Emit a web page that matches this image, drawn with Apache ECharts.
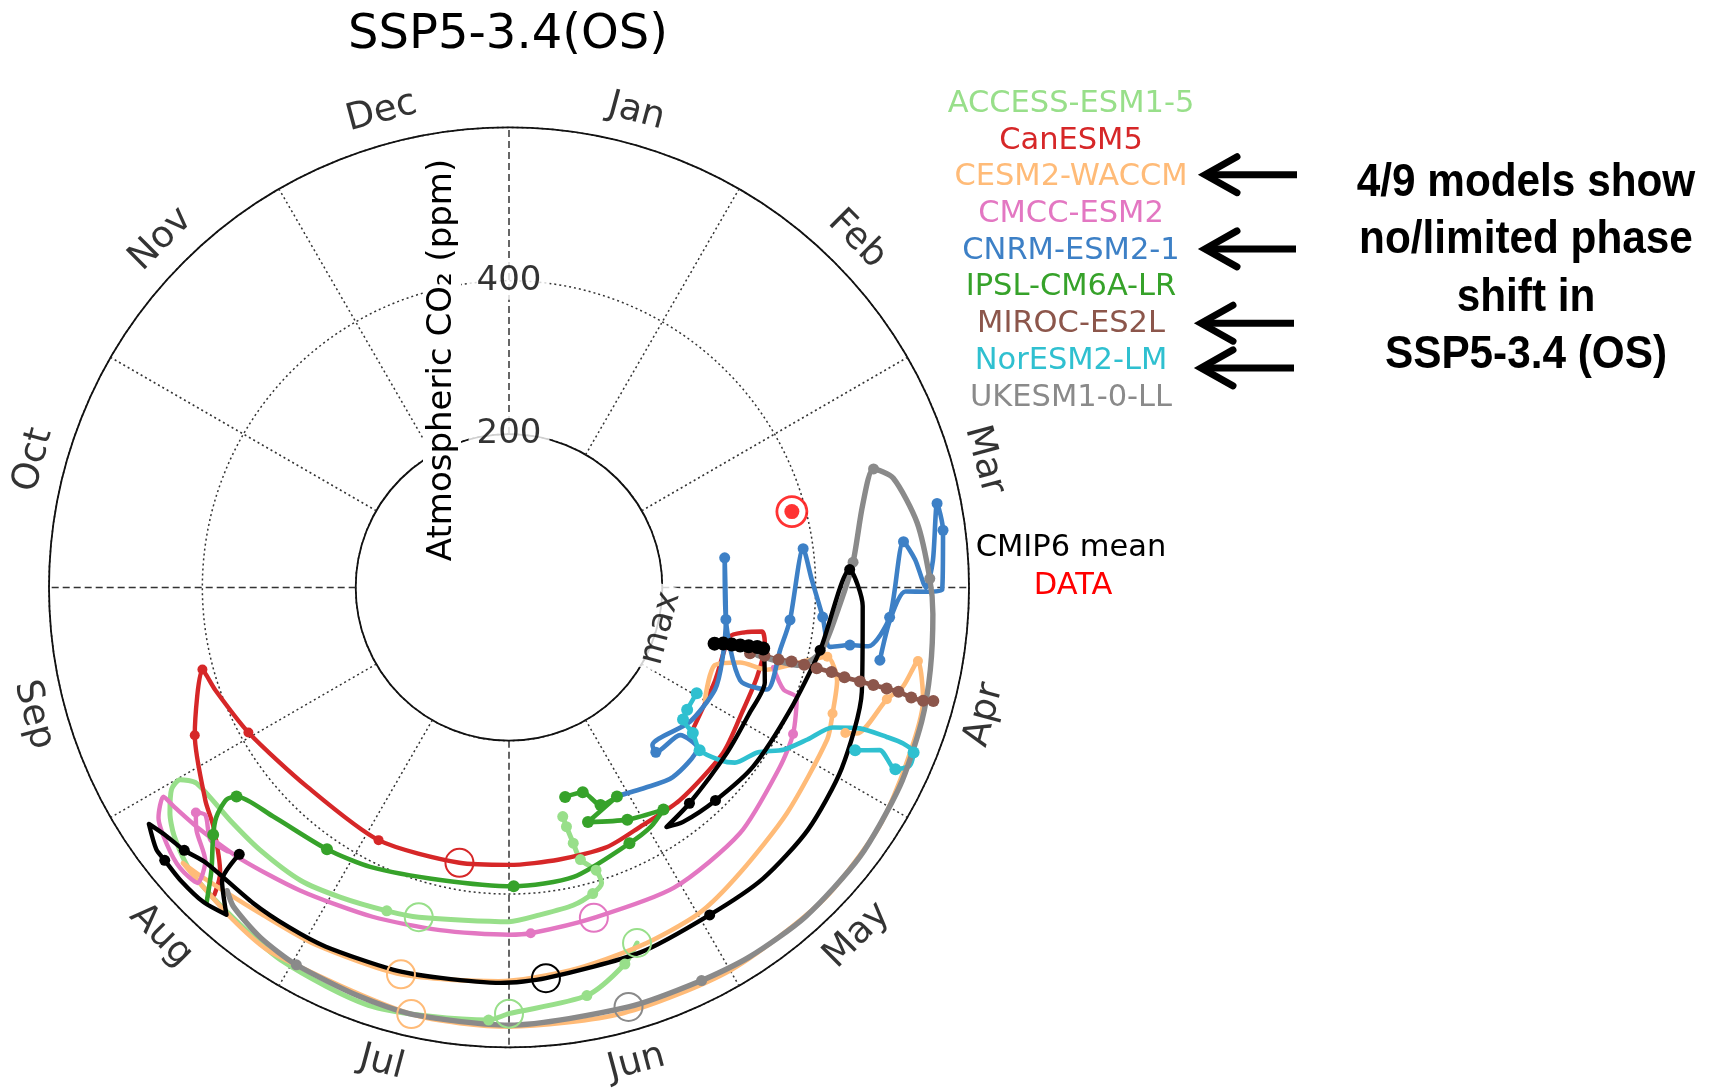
<!DOCTYPE html>
<html><head><meta charset="utf-8">
<script src="https://cdn.jsdelivr.net/npm/echarts/dist/echarts.min.js"></script>
<style>html,body{margin:0;padding:0;background:#fff}#c{width:1712px;height:1089px}</style>
</head><body><div id="c"></div>
<script>
// ---------------- data ----------------
const months = ['Jan','Feb','Mar','Apr','May','Jun','Jul','Aug','Sep','Oct','Nov','Dec'];
const radialTicks = [200, 400];
const models = ['ACCESS-ESM1-5','CanESM5','CESM2-WACCM','CMCC-ESM2','CNRM-ESM2-1','IPSL-CM6A-LR','MIROC-ES2L','NorESM2-LM','UKESM1-0-LL'];
const modelColors = ['#98df8a','#d62728','#ffbb78','#e377c2','#3d80c6','#36a22a','#8c564b','#2fc0d0','#8a8a8a'];
const noteLines = ['4/9 models show','no/limited phase','shift in','SSP5-3.4 (OS)'];

// points: [CO2 ppm (radius), month position (0 = start of Jan), marker: 0 none, 1 dot, 2 open circle, 3 big dot]
const accessEsm = [[307,5.56,1],[321,5.55,1],[344,5.53,1],[367,5.51,1],[386,5.43,1],[404,5.42,0],[414,5.49,1],[423,5.62,0],[429,5.82,0],[436,6.00,0],[446,6.51,2],[451,6.69,1],[460,6.95,0],[469,7.18,0],[472,7.45,0],[474,7.67,0],[481,7.93,0],[497,7.99,0],[513,7.97,0],[531,7.88,0],[544,7.78,0],[556,7.62,0],[560,7.41,0],[570,7.05,0],[575,6.60,0],[565,6.09,1],[556,6.00,2],[542,5.64,1],[514,5.43,1],[493,5.34,2]];
const canEsm = [[305,4.31,0],[295,3.81,0],[295,3.42,0],[313,3.36,0],[335,3.33,0],[342,3.42,0],[344,3.66,0],[345,3.94,0],[353,4.26,0],[356,4.71,0],[356,5.04,0],[362,5.31,0],[361,5.65,0],[362,6.00,0],[365,6.34,2],[371,6.91,1],[370,7.51,0],[389,8.03,1],[406,8.36,0],[414,8.50,1],[453,8.16,1],[484,7.83,0],[496,7.70,0],[530,7.51,0],[555,7.46,0]];
const cesmWaccm = [[295,4.00,0],[287,3.69,0],[317,3.60,0],[353,3.59,0],[400,3.46,0],[425,3.41,1],[445,3.53,0],[453,3.71,1],[460,3.85,0],[467,4.30,0],[479,4.70,0],[492,4.99,0],[498,5.33,0],[506,5.70,0],[514,6.05,0],[524,6.52,2],[530,6.95,0],[535,7.25,0],[550,7.55,0],[557,7.66,0],[563,7.34,0],[568,7.10,0],[571,6.43,2],[573,6.00,0],[575,5.50,0],[577,5.00,0],[578,4.50,0],[575,4.10,0],[567,3.80,0],[560,3.51,0],[542,3.34,1],[530,3.47,0],[514,3.55,1],[492,3.76,0],[478,3.78,1]];
const cmccEsm = [[360,3.56,0],[382,3.68,0],[402,3.70,0],[417,3.91,1],[424,4.12,0],[440,4.56,0],[447,5.04,0],[445,5.52,2],[452,5.88,1],[453,6.00,0],[456,6.38,0],[465,6.75,0],[480,7.15,0],[498,7.49,0],[512,7.73,0],[522,7.89,0],[527,7.96,0],[547,7.89,0],[558,7.77,0],[564,7.65,0],[560,7.55,0],[533,7.60,0],[516,7.74,0],[503,7.81,1],[495,7.77,0],[510,7.66,0],[503,7.56,0]];
const cnrmEsm = [[306,5.11,0],[316,4.86,0],[327,4.64,0],[323,4.35,0],[295,4.36,0],[288,4.61,1],[278,4.59,0],[294,4.22,0],[300,3.88,0],[294,3.63,0],[286,3.28,1],[284,2.74,1],[286,3.28,0],[325,3.73,0],[362,3.72,0],[363,3.43,0],[369,3.22,1],[387,2.75,1],[395,2.95,0],[411,3.18,1],[426,3.35,0],[451,3.32,1],[475,3.31,0],[498,3.15,1],[518,2.78,1],[531,2.87,0],[544,3.00,0],[554,2.88,0],[569,2.63,1],[571,2.75,1],[565,3.01,0],[543,3.02,0],[517,3.02,0],[499,3.16,0],[493,3.37,1]];
const ipslCm6a = [[283,5.50,1],[284,5.34,1],[308,5.24,1],[307,5.09,1],[323,5.38,1],[340,5.10,1],[353,4.84,1],[363,4.98,0],[369,5.16,1],[387,5.58,0],[390,5.97,1],[392,6.44,0],[407,6.88,0],[416,7.16,1],[429,7.53,0],[448,7.75,1],[461,7.77,0],[485,7.73,0],[503,7.67,1],[535,7.55,0],[570,7.46,0]];
const mirocEs2l = [[326,3.51,1],[345,3.50,1],[364,3.50,1],[381,3.49,1],[398,3.49,1],[415,3.49,1],[435,3.49,1],[453,3.50,1],[474,3.50,1],[492,3.50,1],[510,3.50,1],[526,3.50,1],[544,3.51,1],[560,3.51,1],[573,3.50,1]];
const norEsm = [[281,3.98,1],[282,4.15,1],[285,4.24,1],[306,4.28,1],[327,4.35,1],[356,4.31,0],[373,4.26,0],[389,4.12,0],[416,4.02,0],[437,3.90,0],[460,3.78,0],[493,3.73,0],[530,3.72,0],[553,3.72,0],[570,3.74,1],[572,3.80,0],[557,3.84,1],[528,3.79,0],[499,3.84,1]];
const ukEsm = [[336,3.51,0],[393,3.50,0],[416,3.38,0],[432,3.10,0],[450,2.86,1],[474,2.56,0],[500,2.40,1],[521,2.47,0],[539,2.70,0],[549,2.96,1],[554,3.12,0],[560,3.37,0],[566,3.60,0],[572,3.90,0],[577,4.25,0],[578,4.60,0],[575,4.90,0],[571,5.13,1],[569,5.47,2],[571,6.00,0],[571,6.42,0],[568,6.67,0],[565,6.98,1],[560,7.18,0],[550,7.36,0],[540,7.43,0]];
const cmip6Mean = [[278,3.51,3],[289,3.49,3],[300,3.48,3],[311,3.47,3],[322,3.46,3],[333,3.45,3],[341,3.45,3],[356,3.68,0],[354,3.92,0],[357,4.24,0],[367,4.67,1],[374,4.89,0],[381,4.78,0],[387,4.53,1],[395,4.21,0],[400,3.79,0],[414,3.38,1],[445,2.90,1],[462,3.10,0],[480,3.55,0],[494,3.95,0],[502,4.30,0],[504,4.63,0],[501,4.95,1],[506,5.34,0],[512,5.82,2],[516,6.04,0],[517,6.33,0],[521,6.56,0],[526,6.90,0],[528,7.10,0],[530,7.30,0],[534,7.59,0],[545,7.70,1],[552,7.80,0],[562,7.89,0],[573,7.78,0],[573,7.72,1],[574,7.61,0],[572,7.47,0],[564,7.36,0],[535,7.48,0],[495,7.51,1]];
const observed = [[382, 2.50]];

const modelData = [accessEsm, canEsm, cesmWaccm, cmccEsm, cnrmEsm, ipslCm6a, mirocEs2l, norEsm, ukEsm];

// ---------------- chart ----------------
const FONT = 'DejaVu Sans';
const chart = echarts.init(document.getElementById('c'));

function lineSeries(name, pts, color, width, dotSize) {
  return {
    type: 'line', name: name, coordinateSystem: 'polar', polarIndex: 0,
    showAllSymbol: true, smooth: 0.25, silent: true, z: 3,
    lineStyle: { color: color, width: width, cap: 'round', join: 'round' },
    itemStyle: { color: color },
    emphasis: { disabled: true },
    data: pts.map(function (p) {
      const it = { value: [p[0], p[1]] };
      if (p[2] === 1) { it.symbol = 'circle'; it.symbolSize = dotSize; }
      else if (p[2] === 3) { it.symbol = 'circle'; it.symbolSize = 14; }
      else if (p[2] === 2) {
        it.symbol = 'circle'; it.symbolSize = 28;
        it.itemStyle = { color: 'rgba(0,0,0,0)', borderColor: color, borderWidth: 2 };
      } else { it.symbol = 'none'; }
      return it;
    })
  };
}

const series = [];
// radial grid lines at month boundaries
months.forEach(function (m, k) {
  series.push({
    type: 'line', coordinateSystem: 'polar', silent: true, z: 1, symbol: 'none',
    data: [[200, k], [600, k]],
    lineStyle: { color: '#333', width: 1.5, type: (k % 3 === 0) ? [7, 4] : [2, 3] }
  });
});
const dotSizes = [11, 10, 10, 10, 11, 12, 12, 12, 11];
const widths = [5, 4.4, 4.6, 4.4, 4.6, 4.6, 4.6, 4.6, 5.4];
models.forEach(function (m, i) {
  series.push(lineSeries(m, modelData[i], modelColors[i], widths[i], dotSizes[i]));
});
series.push(lineSeries('CMIP6 mean', cmip6Mean, '#000', 4.4, 11));
series.push({
  type: 'scatter', coordinateSystem: 'polar', silent: true, z: 6, symbol: 'circle', symbolSize: 30,
  itemStyle: { color: '#fff', borderColor: '#ff0000', borderWidth: 2.8 }, data: observed
});
series.push({
  type: 'scatter', coordinateSystem: 'polar', silent: true, z: 7, symbol: 'circle', symbolSize: 15,
  itemStyle: { color: '#ff0000' }, data: observed
});
// month labels
series.push({
  type: 'scatter', coordinateSystem: 'polar', clip: false, silent: true, z: 10, symbolSize: 1,
  itemStyle: { color: 'rgba(0,0,0,0)' },
  data: months.map(function (m, i) {
    const deg = 15 + 30 * i;
    let rot = (deg <= 90 || deg >= 270) ? -deg : 180 - deg;
    rot = ((rot + 540) % 360) - 180;
    return { value: [642, i + 0.5], label: { rotate: rot } };
  }),
  label: { show: true, position: 'inside', formatter: function (p) { return months[p.dataIndex]; },
    fontSize: 37, fontFamily: FONT, color: '#000' }
});
// radial tick labels
series.push({
  type: 'scatter', coordinateSystem: 'polar', clip: false, silent: true, z: 10, symbolSize: 1,
  itemStyle: { color: 'rgba(0,0,0,0)' },
  data: radialTicks.map(function (v) { return [v, 0]; }),
  label: { show: true, position: 'inside', formatter: function (p) { return String(p.value[0]); },
    fontSize: 34, fontFamily: FONT, color: '#000', backgroundColor: '#fff', padding: [2, 8] }
});
series.push({
  type: 'scatter', coordinateSystem: 'polar', clip: false, silent: true, z: 10, symbolSize: 1,
  itemStyle: { color: 'rgba(0,0,0,0)' },
  data: [{ value: [205, 3.5], label: { rotate: 75 } }],
  label: { show: true, position: 'inside', formatter: 'max',
    fontSize: 34, fontFamily: FONT, color: '#000', backgroundColor: '#fff', padding: [0, 6] }
});

const graphics = [];
graphics.push({ type: 'text', x: 508, y: 36, z: 50, style: { text: 'SSP5-3.4(OS)', fontSize: 48, fontFamily: FONT, fill: '#000', textAlign: 'center', textVerticalAlign: 'middle' } });
graphics.push({ type: 'text', x: 442, y: 360, rotation: Math.PI / 2, z: 50,
  style: { text: 'Atmospheric CO\u2082 (ppm)', fontSize: 34, fontFamily: FONT, fill: '#000', textAlign: 'center', textVerticalAlign: 'middle', backgroundColor: '#fff', padding: [2, 4] } });
models.forEach(function (m, i) {
  graphics.push({ type: 'text', x: 1071, y: 104 + i * 36.7, z: 50,
    style: { text: m, fontSize: 30.5, fontFamily: FONT, fill: modelColors[i], textAlign: 'center', textVerticalAlign: 'middle' } });
});
graphics.push({ type: 'text', x: 1071, y: 548, z: 50, style: { text: 'CMIP6 mean', fontSize: 30.5, fontFamily: FONT, fill: '#000', textAlign: 'center', textVerticalAlign: 'middle' } });
graphics.push({ type: 'text', x: 1073, y: 586, z: 50, style: { text: 'DATA', fontSize: 30.5, fontFamily: FONT, fill: '#ff0000', textAlign: 'center', textVerticalAlign: 'middle' } });
[[174.7, 1205, 1297], [248.9, 1205, 1296], [323.2, 1201, 1294], [367.9, 1201, 1294]].forEach(function (a) {
  graphics.push({ type: 'line', z: 50, shape: { x1: a[1] + 4, y1: a[0], x2: a[2], y2: a[0] }, style: { stroke: '#000', lineWidth: 7 } });
  graphics.push({ type: 'polyline', z: 50, shape: { points: [[a[1] + 32, a[0] - 18], [a[1], a[0]], [a[1] + 32, a[0] + 18]] },
    style: { stroke: '#000', lineWidth: 7, fill: null, lineJoin: 'miter', lineCap: 'round' } });
});
noteLines.forEach(function (t, i) {
  graphics.push({ type: 'text', x: 1526, y: 183.4 + i * 57.1, scaleX: 0.9, z: 50,
    style: { text: t, fontSize: 47, fontWeight: 'bold', fontFamily: 'Liberation Sans', fill: '#000', textAlign: 'center', textVerticalAlign: 'middle' } });
});

chart.setOption({
  animation: false,
  backgroundColor: '#fff',
  polar: { center: [509, 587.4], radius: [153.3, 460] },
  angleAxis: {
    type: 'value', min: 0, max: 12, interval: 1, startAngle: 90, clockwise: true,
    axisLine: { show: true, lineStyle: { color: '#111', width: 1.8 } },
    axisTick: { show: false }, axisLabel: { show: false }, splitLine: { show: false }
  },
  radiusAxis: {
    type: 'value', min: 200, max: 600, interval: 200,
    axisLine: { show: false }, axisTick: { show: false }, axisLabel: { show: false },
    splitLine: { show: true, lineStyle: { color: '#333', width: 1.5, type: [2, 3] } }
  },
  series: series,
  graphic: { elements: graphics }
});
</script>
</body></html>
